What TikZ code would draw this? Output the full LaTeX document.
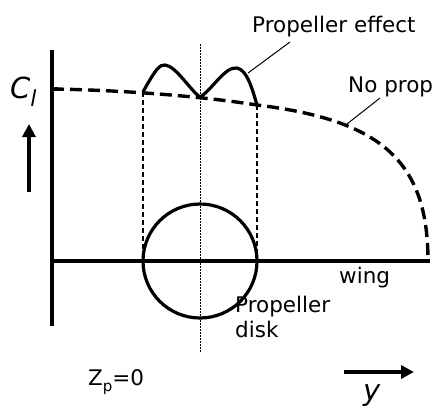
\documentclass[tikz,border=0pt]{standalone}
\usepackage{fontspec}
\setmainfont{DejaVu Sans}
\usetikzlibrary{arrows.meta}
\tikzset{
  axis/.style={line width=3.2pt},
  nocurve/.style={line width=3.4pt, dash pattern=on 12pt off 6pt},
  propcurve/.style={line width=3.2pt, line join=round},
  guide/.style={line width=1.4pt, dash pattern=on 5pt off 3pt},
  center/.style={line width=0.9pt, dash pattern=on 1.5pt off 1.5pt},
  leader/.style={line width=1pt},
  lbl/.style={inner sep=0pt, font=\fontsize{21.5}{25}\selectfont},
  bigarrow/.style={line width=4pt, -{Triangle[length=13pt,width=13pt]}},
}
\begin{document}
\begin{tikzpicture}[x=1pt,y=-1pt]
\useasboundingbox (0,0) rectangle (435,408);
% key points
\coordinate (axtop) at (52,50);
\coordinate (axbot) at (52,326);
\coordinate (tick) at (58,89);
\coordinate (cl0) at (52,89);
\coordinate (pL) at (143,92);
\coordinate (pM) at (200,97);
\coordinate (pR) at (257,105);
\coordinate (wingL) at (52,261);
\coordinate (wingR) at (430,261);
\coordinate (tipEnd) at (428,261);
\coordinate (disk) at (200,261);
\coordinate (ctop) at (200,44);
\coordinate (cbot) at (200,352);
\coordinate (gL) at (143,261);
\coordinate (gR) at (257,261);
% axes
\draw[axis] (axtop) -- (axbot);
\draw[axis] (cl0) -- (tick);
\draw[axis] (wingL) -- (wingR);
% propeller disk
\draw[line width=3.2pt] (disk) circle[radius=57];
% center line
\draw[center] (ctop) -- (cbot);
% guides
\draw[guide] (pL) -- (gL);
\draw[guide] (pR) -- (gR);
% no prop curve
\draw[nocurve] (cl0) .. controls (120,90) and (200,96) .. (pR)
  .. controls (380,120) and (428,160) .. (tipEnd);
% propeller effect curve
\draw[propcurve] (pL) .. controls (155,70) and (160,64) .. (165,65)
  .. controls (176,66) and (190,90) .. (pM)
  .. controls (212,90) and (225,66) .. (237,68)
  .. controls (247,70) and (252,88) .. (pR);
% labels
\node[lbl, anchor=base west] (peff) at (252,32) {Propeller effect};
\node[lbl, anchor=base west] (noprop) at (348,92) {No prop};
\node[lbl, anchor=base west] (wing) at (339,283) {wing};
\node[lbl, anchor=base west, align=left] (pdisk) at (235,337) {Propeller\\disk};
\node[lbl, anchor=base west] (zp) at (88,385) {Z\raisebox{-0.28em}{\fontsize{15}{15}\selectfont p}=0};
\node[inner sep=0pt, anchor=base west, font=\fontsize{29}{30}\selectfont\itshape] (cl) at (10,98) {C\raisebox{-0.3em}{\fontsize{22}{22}\selectfont l}};
\node[inner sep=0pt, anchor=base west, font=\fontsize{29}{30}\selectfont\itshape] (ylab) at (363,400) {y};
% leaders
\coordinate (peffA) at (248,73);
\coordinate (peffB) at (290,42);
\draw[leader] (peffA) -- (peffB);
\coordinate (npA) at (347,124);
\coordinate (npB) at (380,98);
\draw[leader] (npA) -- (npB);
% direction arrows
\coordinate (upA) at (29,192);
\coordinate (upB) at (29,124);
\draw[bigarrow] (upA) -- (upB);
\coordinate (rA) at (344,372);
\coordinate (rB) at (414,372);
\draw[bigarrow] (rA) -- (rB);
\end{tikzpicture}
\end{document}
